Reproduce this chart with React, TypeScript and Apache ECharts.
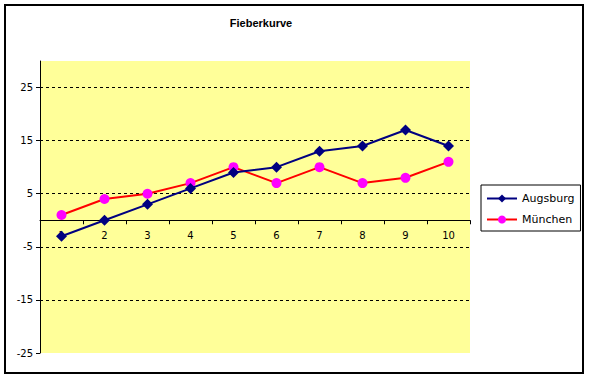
import React, { useEffect, useRef } from "react";
import * as echarts from "echarts";

const categories = ["1", "2", "3", "4", "5", "6", "7", "8", "9", "10"];
const augsburg = [-3, 0, 3, 6, 9, 10, 13, 14, 17, 14];
const muenchen = [1, 4, 5, 7, 10, 7, 10, 7, 8, 11];
const yTickValues = [-25, -15, -5, 5, 15, 25];
const gridValues = [-15, -5, 5, 15, 25];
const yMin = -25;
const yMax = 30;

export default function App() {
  const ref = useRef<HTMLDivElement>(null);
  useEffect(() => {
    const chart = echarts.init(ref.current!, null, { renderer: "svg" });
    const font = "DejaVu Sans";
    chart.setOption({
      animation: false,
      backgroundColor: "#ffffff",
      textStyle: { fontFamily: font },
      graphic: [
        {
          type: "rect",
          shape: { x: 5, y: 5, width: 578, height: 368 },
          style: { fill: "none", stroke: "#000", lineWidth: 2 },
          silent: true,
          z: 100,
        },
        {
          type: "text",
          x: 261,
          y: 23,
          style: {
            text: "Fieberkurve",
            fontFamily: "Liberation Sans",
            fontSize: 11,
            fontWeight: "bold",
            fill: "#000",
            textAlign: "center",
            textVerticalAlign: "middle",
          },
        },
      ],
      grid: {
        left: 40,
        top: 61,
        right: 119,
        bottom: 25,
      },
      legend: {
        orient: "vertical",
        left: 481,
        top: 185,
        borderColor: "#000",
        borderWidth: 1,
        borderRadius: 0,
        padding: [8, 6, 6, 5],
        itemWidth: 30,
        itemHeight: 10,
        itemGap: 10,
        textStyle: { fontFamily: font, fontSize: 11, color: "#000" },
        data: ["Augsburg", "München"],
      },
      xAxis: {
        type: "category",
        data: categories,
        boundaryGap: true,
        z: 2,
        axisLine: { show: true, onZero: true, lineStyle: { color: "#000", width: 1 } },
        axisTick: { show: true, length: 4, lineStyle: { color: "#000" } },
        axisLabel: { color: "#000", fontSize: 10, fontFamily: font, margin: -123 },
        splitLine: { show: false },
      },
      yAxis: {
        type: "value",
        min: yMin,
        max: yMax,
        interval: 10,
        z: 2,
        axisLine: { show: true, onZero: false, lineStyle: { color: "#000", width: 1 } },
        axisTick: {
          show: true,
          length: 4,
          lineStyle: { color: "#000" },
          customValues: yTickValues,
        },
        axisLabel: {
          color: "#000",
          fontSize: 10,
          fontFamily: font,
          margin: 7,
          customValues: yTickValues,
        },
        splitLine: { show: false },
      },
      series: [
        {
          name: "bg",
          type: "line",
          data: [],
          z: 0,
          silent: true,
          markArea: {
            silent: true,
            itemStyle: { color: "#FFFF99" },
            data: [[{ yAxis: yMin }, { yAxis: yMax }]],
          },
          markLine: {
            silent: true,
            symbol: "none",
            label: { show: false },
            lineStyle: { color: "#000", type: [3, 3], width: 1 },
            data: gridValues.map((v) => ({ yAxis: v })),
          },
        },
        {
          name: "Augsburg",
          type: "line",
          data: augsburg,
          symbol: "diamond",
          symbolSize: 11,
          lineStyle: { color: "#000080", width: 2 },
          itemStyle: { color: "#000080" },
          z: 6,
        },
        {
          name: "München",
          type: "line",
          data: muenchen,
          symbol: "circle",
          symbolSize: 10,
          lineStyle: { color: "#FF0000", width: 2 },
          itemStyle: { color: "#FF00FF" },
          z: 5,
        },
      ],
    });
    return () => chart.dispose();
  }, []);
  return (
    <div
      ref={ref}
      style={{ position: "absolute", left: 0, top: 0, width: 589, height: 378 }}
    />
  );
}
